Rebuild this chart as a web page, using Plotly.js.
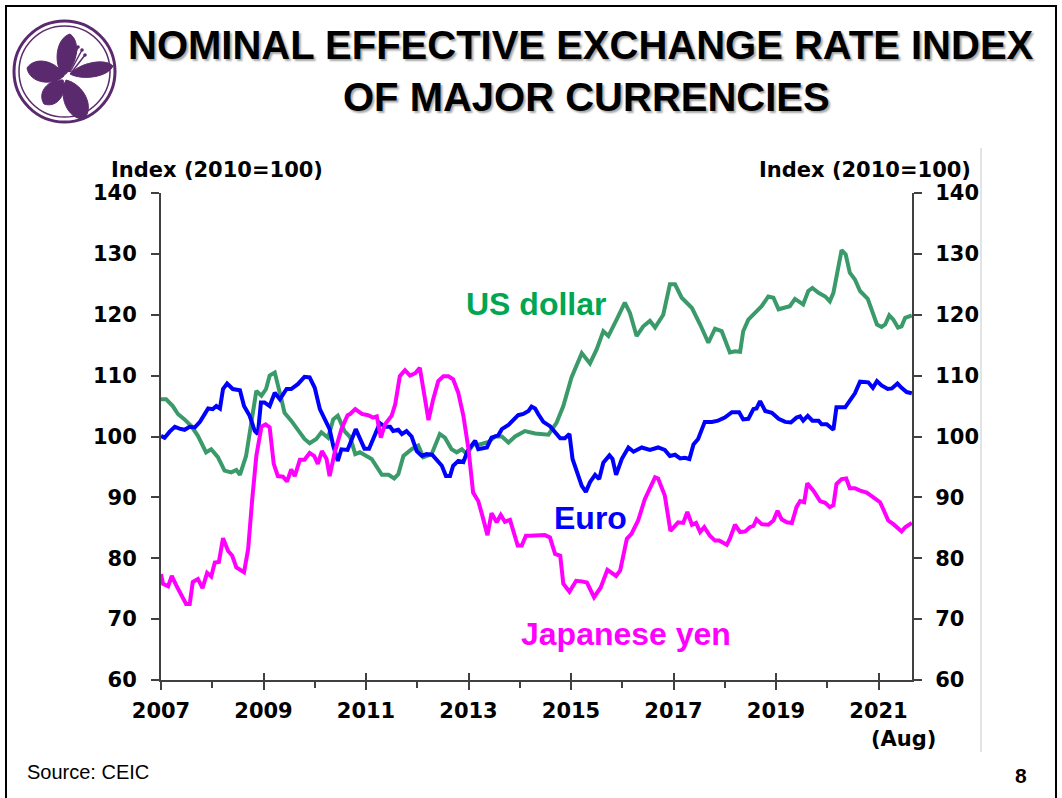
<!DOCTYPE html>
<html><head><meta charset="utf-8">
<script src="https://cdn.plot.ly/plotly-3.0.1.min.js"></script>
<style>html,body{margin:0;padding:0;background:#fff;overflow:hidden}#chart{width:1062px;height:798px}</style>
</head><body><div id="chart"></div>
<script>
// ---- data (decimal years, index 2010=100) ----
const usdYears = [2007.00,2007.10,2007.23,2007.33,2007.46,2007.59,2007.72,2007.88,2007.98,2008.11,2008.24,2008.37,2008.47,2008.54,2008.66,2008.76,2008.86,2008.96,2009.05,2009.12,2009.22,2009.35,2009.41,2009.54,2009.67,2009.80,2009.90,2010.03,2010.13,2010.26,2010.36,2010.45,2010.58,2010.69,2010.79,2010.88,2011.11,2011.24,2011.31,2011.44,2011.55,2011.63,2011.73,2011.89,2012.02,2012.12,2012.28,2012.44,2012.54,2012.67,2012.77,2012.87,2012.97,2013.09,2013.22,2013.39,2013.52,2013.65,2013.78,2013.91,2014.10,2014.30,2014.56,2014.72,2014.85,2015.01,2015.21,2015.37,2015.50,2015.63,2015.73,2015.89,2016.05,2016.15,2016.28,2016.41,2016.54,2016.64,2016.80,2016.93,2017.03,2017.16,2017.36,2017.52,2017.68,2017.81,2017.94,2018.10,2018.20,2018.30,2018.36,2018.46,2018.59,2018.72,2018.85,2018.95,2019.05,2019.18,2019.27,2019.37,2019.53,2019.63,2019.71,2019.83,2019.96,2020.05,2020.12,2020.22,2020.28,2020.36,2020.44,2020.54,2020.64,2020.79,2020.87,2020.97,2021.06,2021.13,2021.21,2021.29,2021.38,2021.45,2021.52,2021.65];
const usdValues = [106.1,106.1,105.0,103.7,102.8,101.7,100.1,97.4,97.9,96.6,94.4,94.1,94.5,93.7,96.8,102.3,107.5,106.7,107.8,110.0,110.5,106.1,103.9,102.6,101.2,99.6,98.9,99.6,100.7,99.8,102.8,103.4,100.9,99.9,97.1,97.4,96.3,94.6,93.7,93.7,93.1,93.8,96.8,97.9,98.5,96.6,97.1,100.4,99.8,97.9,97.4,97.9,97.1,98.7,98.7,99.1,100.0,100.0,99.0,100.0,100.9,100.5,100.3,102.3,105.0,109.7,113.7,112.0,114.3,117.3,116.5,119.2,122.0,120.3,116.5,118.1,119.0,117.9,120.0,125.0,125.0,122.8,121.1,118.4,115.4,117.7,117.3,113.8,114.0,113.9,117.3,119.2,120.3,121.4,123.0,122.8,120.9,121.1,121.4,122.6,121.7,123.9,124.4,123.6,123.0,122.2,123.6,128.0,130.6,129.9,126.9,125.8,123.9,122.6,120.9,118.4,118.0,118.4,119.9,119.2,117.9,118.1,119.5,119.9];

const eurYears = [2007.00,2007.07,2007.17,2007.27,2007.36,2007.46,2007.56,2007.66,2007.76,2007.85,2007.92,2008.01,2008.08,2008.15,2008.21,2008.29,2008.40,2008.54,2008.62,2008.73,2008.83,2008.89,2008.95,2009.02,2009.12,2009.22,2009.32,2009.45,2009.54,2009.67,2009.80,2009.90,2010.00,2010.10,2010.19,2010.29,2010.36,2010.45,2010.52,2010.64,2010.80,2010.88,2010.97,2011.06,2011.18,2011.27,2011.37,2011.47,2011.53,2011.63,2011.70,2011.79,2011.89,2011.99,2012.09,2012.18,2012.29,2012.41,2012.48,2012.56,2012.64,2012.70,2012.80,2012.90,2012.98,2013.13,2013.19,2013.36,2013.45,2013.58,2013.65,2013.78,2013.87,2013.97,2014.07,2014.17,2014.23,2014.30,2014.36,2014.46,2014.59,2014.69,2014.79,2014.88,2014.97,2015.03,2015.14,2015.21,2015.29,2015.37,2015.47,2015.55,2015.63,2015.75,2015.81,2015.88,2015.99,2016.12,2016.22,2016.38,2016.54,2016.70,2016.83,2016.93,2017.03,2017.13,2017.22,2017.31,2017.39,2017.48,2017.61,2017.75,2017.87,2018.00,2018.14,2018.28,2018.36,2018.46,2018.56,2018.62,2018.69,2018.79,2018.92,2019.05,2019.18,2019.29,2019.40,2019.47,2019.53,2019.62,2019.71,2019.83,2019.89,2019.99,2020.12,2020.18,2020.35,2020.44,2020.54,2020.64,2020.80,2020.89,2020.97,2021.06,2021.18,2021.26,2021.37,2021.45,2021.55,2021.65];
const eurValues = [100.1,99.8,100.8,101.6,101.3,101.1,101.6,101.5,102.4,103.7,104.6,104.5,105.0,104.6,107.8,108.7,107.8,107.6,105.0,103.4,100.9,100.4,105.6,105.6,105.0,107.2,106.1,107.8,107.8,108.6,109.8,109.7,108.0,104.5,102.8,101.2,98.5,96.0,97.9,97.8,101.2,99.8,98.0,98.0,100.2,102.2,101.6,101.6,100.9,101.1,100.4,100.9,100.0,97.6,96.8,97.1,97.0,95.7,95.2,93.5,93.5,95.2,96.0,95.8,97.6,99.3,97.9,98.2,99.8,100.2,101.2,101.9,102.6,103.5,103.7,104.2,104.9,104.6,103.7,102.4,101.7,100.7,99.7,99.7,100.4,96.3,93.8,91.9,90.9,92.5,93.7,93.0,95.7,96.9,96.3,93.7,96.3,98.2,97.5,98.2,97.8,98.2,97.8,96.8,97.0,96.4,96.5,96.3,98.7,99.6,102.4,102.4,102.6,103.1,104.0,104.0,102.8,102.9,104.5,104.6,105.8,104.2,103.9,102.9,102.4,102.3,103.1,103.3,102.6,103.4,102.6,102.6,102.0,102.0,101.1,104.8,104.8,105.8,107.1,109.0,108.9,108.0,109.1,108.4,107.8,107.9,108.7,108.0,107.3,107.1];

const jpyYears = [2007.00,2007.04,2007.14,2007.21,2007.30,2007.40,2007.49,2007.56,2007.62,2007.72,2007.81,2007.90,2007.98,2008.05,2008.13,2008.21,2008.31,2008.39,2008.47,2008.62,2008.70,2008.78,2008.86,2008.96,2009.04,2009.12,2009.20,2009.28,2009.38,2009.46,2009.54,2009.61,2009.71,2009.80,2009.90,2009.99,2010.06,2010.14,2010.23,2010.29,2010.39,2010.52,2010.64,2010.69,2010.79,2010.92,2011.04,2011.14,2011.21,2011.29,2011.37,2011.50,2011.57,2011.66,2011.76,2011.86,2011.96,2012.05,2012.15,2012.22,2012.31,2012.41,2012.51,2012.61,2012.70,2012.80,2012.90,2013.00,2013.09,2013.19,2013.27,2013.37,2013.45,2013.55,2013.63,2013.71,2013.81,2013.87,2013.96,2014.04,2014.12,2014.20,2014.33,2014.49,2014.59,2014.69,2014.79,2014.85,2014.97,2015.10,2015.21,2015.31,2015.45,2015.58,2015.71,2015.79,2015.88,2015.96,2016.09,2016.18,2016.31,2016.44,2016.56,2016.64,2016.70,2016.83,2016.94,2017.09,2017.19,2017.27,2017.36,2017.44,2017.52,2017.60,2017.71,2017.81,2017.89,2018.04,2018.10,2018.20,2018.30,2018.40,2018.49,2018.56,2018.62,2018.72,2018.85,2018.95,2019.03,2019.11,2019.21,2019.31,2019.40,2019.47,2019.55,2019.61,2019.73,2019.86,2019.96,2020.05,2020.12,2020.18,2020.28,2020.37,2020.44,2020.54,2020.64,2020.77,2020.90,2021.03,2021.09,2021.19,2021.29,2021.39,2021.45,2021.52,2021.61,2021.65];
const jpyValues = [77.4,75.8,75.4,77.1,75.5,73.9,72.5,72.5,76.1,76.6,75.1,77.6,77.0,79.3,79.4,83.3,81.2,80.4,78.5,77.7,81.5,89.7,96.8,101.6,102.0,101.5,95.5,93.5,93.4,92.6,94.6,93.5,96.2,96.2,97.3,96.8,95.5,97.6,96.3,93.5,97.4,101.2,103.5,103.7,104.5,103.7,103.5,103.1,103.3,99.8,102.0,103.4,105.3,109.9,110.9,110.0,110.4,111.3,106.1,102.7,106.1,109.1,109.9,109.9,109.4,107.2,103.4,97.9,90.8,89.4,87.0,83.8,87.4,85.9,87.1,86.0,86.3,84.8,82.1,82.1,83.7,83.7,83.8,83.8,83.4,80.7,80.4,75.8,74.5,76.3,76.2,76.0,73.6,75.2,78.1,77.7,77.1,78.0,83.2,84.0,86.2,89.7,91.9,93.3,93.1,90.3,84.5,85.9,85.8,87.6,85.5,85.8,84.3,85.1,83.7,82.9,82.9,82.2,83.2,85.5,84.3,84.4,85.1,85.3,86.4,85.6,85.5,86.2,87.8,86.4,85.9,85.8,88.4,89.4,89.2,92.3,91.1,89.4,89.1,88.4,88.7,92.2,93.0,93.1,91.5,91.5,91.1,90.8,90.0,89.2,88.1,86.2,85.6,84.8,84.4,85.1,85.6,85.8];

const tickYears = [2007,2009,2011,2013,2015,2017,2019,2021];
const tickLabels = ["2007","2009","2011","2013","2015","2017","2019","2021"];
const minorYears = [2008,2010,2012,2014,2016,2018,2020];
const yTicks = [60,70,80,90,100,110,120,130,140];
const seriesNames = ["US dollar","Euro","Japanese yen"];

// ---- layout helpers (pixel -> paper) ----
const L=161,R=912,T=193,B=680;
const px = x => (x-L)/(R-L);
const py = y => (B-y)/(B-T);
const AXC = '#404040';
const tickFont = {family:'DejaVu Sans', size:21, color:'#000', weight:'bold'};
const purple = '#5B2A6E';

function leaf(bx,by,tx,ty,w){
  const dx=tx-bx, dy=ty-by, len=Math.hypot(dx,dy);
  const nx=-dy/len*w, ny=dx/len*w;
  const p=(x,y)=>px(x)+','+py(y);
  const a1=[bx+dx*0.25+nx, by+dy*0.25+ny], a2=[bx+dx*0.85+nx*1.1, by+dy*0.85+ny*1.1];
  const b1=[bx+dx*0.85-nx*1.1, by+dy*0.85-ny*1.1], b2=[bx+dx*0.25-nx, by+dy*0.25-ny];
  return 'M'+p(bx,by)+' C'+p(...a1)+' '+p(...a2)+' '+p(tx,ty)+' C'+p(...b1)+' '+p(...b2)+' '+p(bx,by)+' Z';
}
const petals = [[63,76,70,34,12],[64,76,27,68,13],[70,74,113,66,9],[63,80,44,104,12],[66,80,84,119,14]];
const shapes = [];
shapes.push({type:'rect',xref:'paper',yref:'paper',x0:px(6),x1:px(1056),y0:py(6),y1:py(812),line:{color:'#000',width:2},layer:'below'});
shapes.push({type:'line',xref:'paper',yref:'paper',x0:px(981),x1:px(981),y0:py(148),y1:py(752),line:{color:'#c8c8c8',width:1}});
shapes.push({type:'circle',xref:'paper',yref:'paper',x0:px(14),x1:px(115),y0:py(122),y1:py(21),line:{color:purple,width:3}});
shapes.push({type:'circle',xref:'paper',yref:'paper',x0:px(19),x1:px(110),y0:py(117),y1:py(26),line:{color:purple,width:1.5}});
petals.forEach(pt=>shapes.push({type:'path',xref:'paper',yref:'paper',path:leaf(...pt),fillcolor:purple,line:{color:purple,width:1}}));
[[68,72,74,46],[69,72,78,47],[70,72,82,50],[71,73,85,55]].forEach(s=>{
  shapes.push({type:'line',xref:'paper',yref:'paper',x0:px(s[0]),y0:py(s[1]),x1:px(s[2]),y1:py(s[3]),line:{color:purple,width:1.5}});
  shapes.push({type:'circle',xref:'paper',yref:'paper',x0:px(s[2]-1.8),x1:px(s[2]+1.8),y0:py(s[3]+1.8),y1:py(s[3]-1.8),fillcolor:purple,line:{color:purple,width:0}});
});

const titleFont = {family:'Liberation Sans, Arial', size:40, color:'#000', weight:'bold', shadow:'2px 2px 2px rgba(0,0,0,0.35)'};
const annFont = {family:'DejaVu Sans', size:21, color:'#000', weight:'bold'};
const annotations = [
  {text:'NOMINAL EFFECTIVE EXCHANGE RATE INDEX', x:px(581), y:py(45), font:titleFont},
  {text:'OF MAJOR CURRENCIES', x:px(586), y:py(97), font:titleFont},
  {text:'Index (2010=100)', x:px(217), y:py(170), font:annFont},
  {text:'Index (2010=100)', x:px(865), y:py(170), font:annFont},
  {text:'(Aug)', x:px(903), y:py(739), font:annFont},
  {text:seriesNames[0], x:px(536), y:py(304), font:{family:'Liberation Sans, Arial',size:32,color:'#00A651',weight:'bold'}},
  {text:seriesNames[1], x:px(590), y:py(518), font:{family:'Liberation Sans, Arial',size:32,color:'#0000FF',weight:'bold'}},
  {text:seriesNames[2], x:px(626), y:py(634), font:{family:'Liberation Sans, Arial',size:32,color:'#FF00FF',weight:'bold'}},
  {text:'Source: CEIC', x:px(25), y:py(772), xanchor:'left', font:{family:'Liberation Sans, Arial',size:20,color:'#000'}},
  {text:'8', x:px(1021), y:py(775), font:{family:'Liberation Sans, Arial',size:21,color:'#000',weight:'bold'}}
].map(a=>Object.assign({xref:'paper',yref:'paper',showarrow:false,xanchor:'center',yanchor:'middle'},a));

const traces = [
  {x:usdYears,y:usdValues,name:seriesNames[0],mode:'lines',line:{color:'#3A9A6A',width:4}},
  {x:eurYears,y:eurValues,name:seriesNames[1],mode:'lines',line:{color:'#0000FF',width:4}},
  {x:jpyYears,y:jpyValues,name:seriesNames[2],mode:'lines',line:{color:'#FF00FF',width:4}},
  {x:[],y:[],xaxis:'x2',yaxis:'y2',mode:'lines',showlegend:false,hoverinfo:'skip'}
];

const xr=[2007, 2007+(R-L)/51.25];
const layout = {
  width:1062,height:798,margin:{l:L,r:1062-R,t:T,b:798-B},
  paper_bgcolor:'#fff',plot_bgcolor:'#fff',showlegend:false,
  xaxis:{range:xr,tickvals:tickYears,ticktext:tickLabels,ticks:'outside',ticklen:8,tickwidth:2,tickcolor:AXC,
    showline:true,linecolor:AXC,linewidth:2,showgrid:false,zeroline:false,tickfont:tickFont,ticklabelstandoff:3,
    minor:{tickvals:minorYears,ticks:'outside',ticklen:6,tickwidth:2,tickcolor:AXC,showgrid:false}},
  xaxis2:{range:xr,overlaying:'x',anchor:'y2',side:'bottom',tickvals:tickYears.slice(1),ticks:'inside',ticklen:7,tickwidth:2,tickcolor:AXC,
    showticklabels:false,showline:false,showgrid:false,zeroline:false},
  yaxis:{range:[60,140],tickvals:yTicks,ticks:'outside',ticklen:8,tickwidth:2,tickcolor:AXC,showline:true,linecolor:AXC,linewidth:2,
    showgrid:false,zeroline:false,tickfont:tickFont,ticklabelstandoff:10},
  yaxis2:{range:[60,140],overlaying:'y',side:'right',anchor:'x2',tickvals:yTicks,ticks:'outside',ticklen:8,tickwidth:2,tickcolor:AXC,
    showline:true,linecolor:AXC,linewidth:2,showgrid:false,zeroline:false,tickfont:tickFont,ticklabelstandoff:9},
  shapes:shapes, annotations:annotations
};
Plotly.newPlot('chart',traces,layout,{staticPlot:true,displayModeBar:false});
</script></body></html>
